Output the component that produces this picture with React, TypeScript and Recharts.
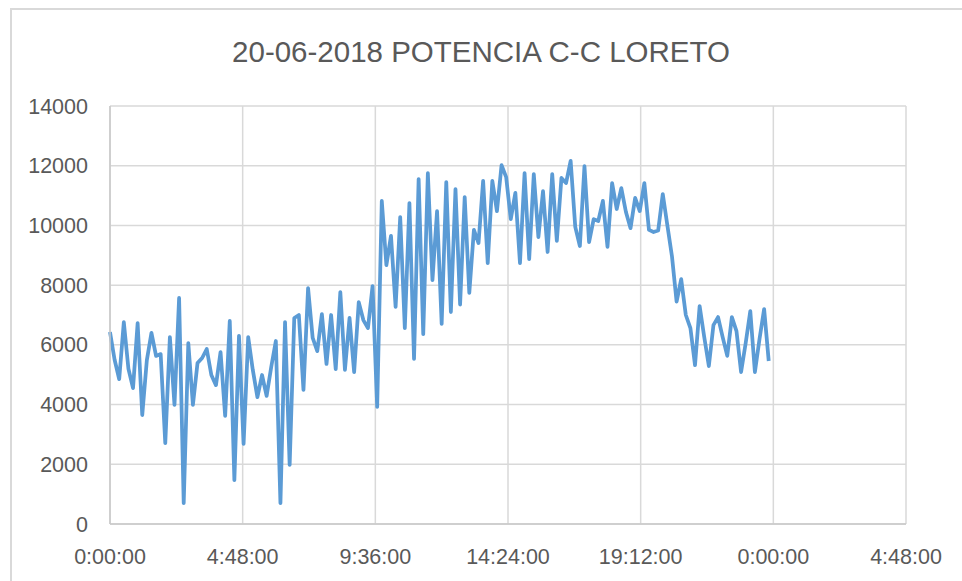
import { LineChart, Line, XAxis, YAxis, CartesianGrid } from 'recharts';

// lecturas cada 10 minutos, de 0:00 a 23:50
const potencia: number[] = [
  6430, 5500, 4850, 6760, 5200, 4550, 6730, 3650, 5490, 6400, 5630, 5690,
  2710, 6260, 3990, 7570, 700, 6060, 3990, 5390, 5560, 5860, 4990, 4650,
  5760, 3620, 6800, 1470, 6300, 2680, 6260, 5160, 4250, 4990, 4290, 5260,
  6130, 700, 6760, 1980, 6900, 7000, 4490, 7900, 6230, 5790, 7030, 5360,
  7000, 5190, 7770, 5160, 6900, 5090, 7430, 6830, 6560, 7970, 3920, 10820,
  8670, 9650, 7270, 10280, 6560, 10750, 5530, 11550, 6360, 11750, 8170, 10480,
  6700, 11450, 7100, 11220, 7350, 10950, 7740, 9850, 9410, 11490, 8740, 11490,
  10480, 12020, 11620, 10210, 11090, 8740, 11750, 8870, 11720, 9610, 11150, 9110,
  11720, 9480, 11590, 11420, 12160, 9950, 9310, 11990, 9440, 10210, 10150, 10820,
  9280, 11420, 10550, 11250, 10450, 9910, 10920, 10480, 11420, 9850, 9780, 9830,
  11050, 10000, 8960, 7450, 8200, 7000, 6560, 5320, 7300, 6260, 5290, 6660,
  6930, 6260, 5630, 6930, 6460, 5090, 6060, 7130, 5090, 6200, 7200, 5460,
];

const intervaloMin = 10;
const minutos = potencia.map((_, i) => i * intervaloMin);

const xTicks = [0, 288, 576, 864, 1152, 1440, 1728];
const yTicks = [0, 2000, 4000, 6000, 8000, 10000, 12000, 14000];

const titulo = '20-06-2018 POTENCIA C-C LORETO';

const data = minutos.map((t, i) => ({ t, potencia: potencia[i] }));

const formatHora = (v: number) => {
  const h = Math.floor(v / 60) % 24;
  const m = Math.round(v % 60);
  return `${h}:${String(m).padStart(2, '0')}:00`;
};

const font = '"Liberation Sans", Arial, sans-serif';

export default function App() {
  return (
    <div style={{ position: 'absolute', left: 0, top: 0, width: 962, height: 581, overflow: 'hidden', background: '#fff' }}>
      {/* borde del área del gráfico */}
      <div
        style={{
          position: 'absolute',
          left: 10,
          top: 8,
          width: 980,
          height: 600,
          borderLeft: '2px solid #d9d9d9',
          borderTop: '2px solid #d9d9d9',
        }}
      />
      <div
        style={{
          position: 'absolute',
          left: 0,
          top: 32,
          width: 962,
          textAlign: 'center',
          fontFamily: font,
          fontSize: 29.5,
          color: '#595959',
          lineHeight: '40px',
        }}
      >
        {titulo}
      </div>
      <LineChart
        width={962}
        height={581}
        data={data}
        margin={{ top: 106, right: 56, bottom: 0, left: 0 }}
        style={{ position: 'absolute', left: 0, top: 0 }}
      >
        <CartesianGrid stroke="#d9d9d9" strokeWidth={1.5} />
        <XAxis
          dataKey="t"
          type="number"
          domain={[0, 1728]}
          ticks={xTicks}
          interval={0}
          tickFormatter={formatHora}
          height={57}
          tickLine={false}
          tickSize={0}
          tickMargin={25}
          axisLine={{ stroke: '#c9c9c9', strokeWidth: 1.5 }}
          tick={{ fill: '#595959', fontSize: 21.5, fontFamily: font }}
        />
        <YAxis
          domain={[0, 14000]}
          ticks={yTicks}
          interval={0}
          width={110}
          tickLine={false}
          tickSize={0}
          tickMargin={22}
          axisLine={{ stroke: '#c9c9c9', strokeWidth: 1.5 }}
          tick={{ fill: '#595959', fontSize: 21.5, fontFamily: font }}
        />
        <Line
          dataKey="potencia"
          type="linear"
          stroke="#5b9bd5"
          strokeWidth={3.75}
          strokeLinejoin="round"
          dot={false}
          activeDot={false}
          isAnimationActive={false}
        />
      </LineChart>
    </div>
  );
}
